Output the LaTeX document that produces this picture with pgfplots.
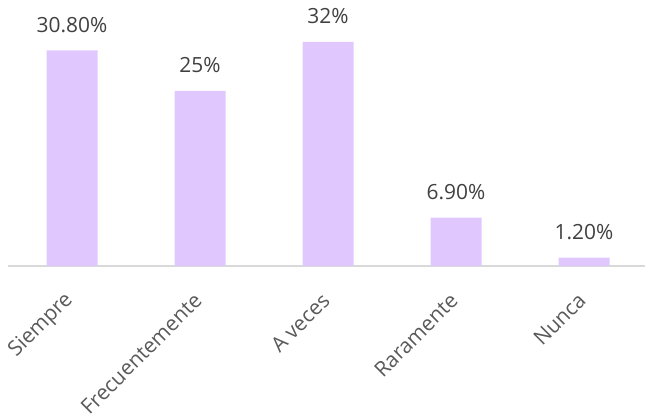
\documentclass[border=0pt]{standalone}
\usepackage{pgfplots}
\pgfplotsset{compat=1.18}
\usepackage{fontspec}
\setmainfont{Open Sans}
\definecolor{barc}{HTML}{E0C8FF}
\definecolor{lab}{HTML}{404040}
\definecolor{tlab}{HTML}{595959}
\definecolor{axc}{HTML}{D9D9D9}
\begin{document}
\begin{tikzpicture}
\begin{axis}[
  at={(8bp,152bp)}, anchor=south west,
  scale only axis, width=640bp, height=266bp,
  xmin=-0.5, xmax=4.5, ymin=0, ymax=38,
  axis y line=none,
  axis x line*=bottom,
  x axis line style={draw=axc, line width=1.5bp},
  major tick length=0pt,
  xtick={0,1,2,3,4},
  xticklabels={Siempre,Frecuentemente,A veces,Raramente,Nunca},
  xticklabel style={xshift=-2bp, yshift=-31bp, rotate=45, anchor=east, inner sep=0pt, font=\fontsize{21}{24}\selectfont, text=tlab},
  ybar, bar width=51bp,
  point meta=explicit symbolic,
  nodes near coords,
  every node near coord/.append style={anchor=base, yshift=18bp, inner sep=0pt, font=\fontsize{21}{24}\selectfont, text=lab},
  clip=false,
]
\addplot[fill=barc, draw=none] coordinates {
  (0,30.8) [30.80\%]
  (1,25) [25\%]
  (2,32) [32\%]
  (3,6.9) [6.90\%]
  (4,1.2) [1.20\%]
};
\end{axis}
\pgfresetboundingbox
\path[use as bounding box] (0,0) rectangle (645bp,418bp);
\end{tikzpicture}
\end{document}
